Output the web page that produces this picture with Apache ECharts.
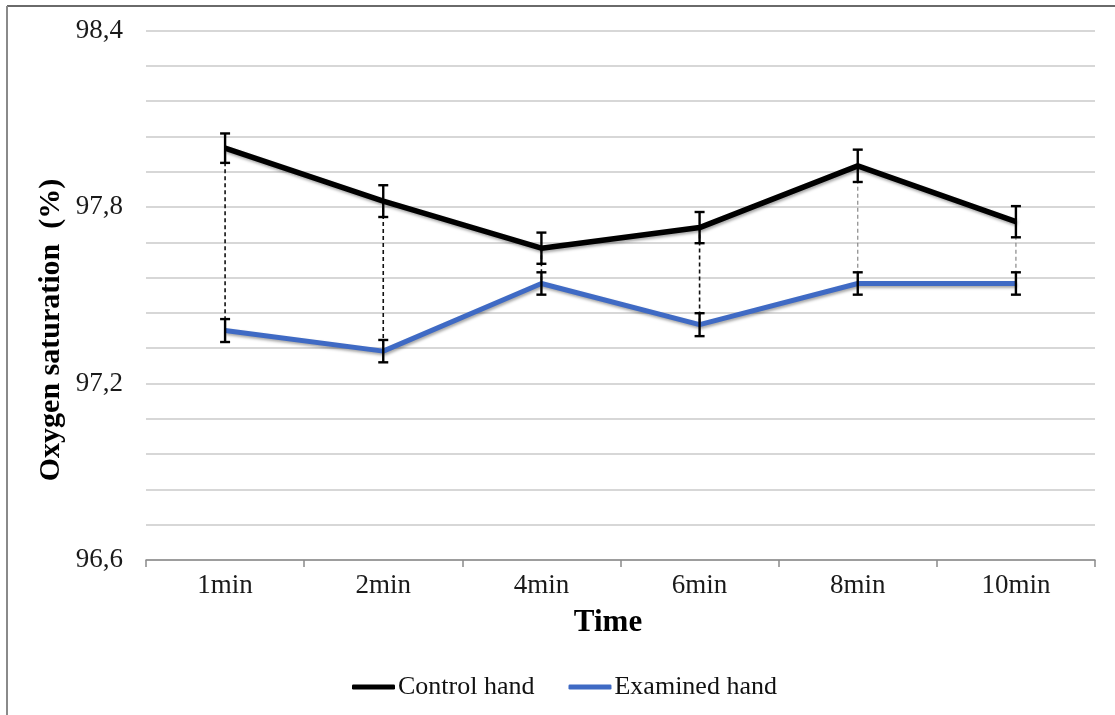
<!DOCTYPE html>
<html>
<head>
<meta charset="utf-8">
<script src="https://cdn.jsdelivr.net/npm/echarts@6/dist/echarts.min.js"></script>
<style>
html,body{margin:0;padding:0;background:#fff;}
#chart{width:1115px;height:715px;}
</style>
</head>
<body>
<div id="chart"></div>
<script>
const categories = ['1min', '2min', '4min', '6min', '8min', '10min'];
const controlHand = [98.00, 97.82, 97.66, 97.73, 97.94, 97.75];
const examinedHand = [97.38, 97.31, 97.54, 97.40, 97.54, 97.54];
const controlErr = [0.050, 0.054, 0.053, 0.053, 0.055, 0.053];
const examinedErr = [0.039, 0.038, 0.038, 0.039, 0.038, 0.038];
const yTicks = [96.6, 97.2, 97.8, 98.4];

const dropColors = ['#111', '#111', '#111', '#111', '#888', '#888'];
const serif = '"Liberation Serif", "Times New Roman", serif';

const chart = echarts.init(document.getElementById('chart'));

function errData(vals, errs) {
  return vals.map((v, i) => [i, v, errs[i]]);
}
function errRender(params, api) {
  const i = api.value(0), v = api.value(1), e = api.value(2);
  const top = api.coord([i, v + e]);
  const bot = api.coord([i, v - e]);
  const cw = 5;
  const st = { stroke: '#000', lineWidth: 2.4 };
  return {
    type: 'group',
    children: [
      { type: 'line', shape: { x1: top[0], y1: top[1], x2: bot[0], y2: bot[1] }, style: st },
      { type: 'line', shape: { x1: top[0] - cw, y1: top[1], x2: top[0] + cw, y2: top[1] }, style: st },
      { type: 'line', shape: { x1: bot[0] - cw, y1: bot[1], x2: bot[0] + cw, y2: bot[1] }, style: st }
    ]
  };
}

const dropData = controlHand.map((v, i) => [i, v, examinedHand[i]]);

const lineShadow = { shadowColor: 'rgba(0,0,0,0.35)', shadowBlur: 3, shadowOffsetX: 1, shadowOffsetY: 2 };

const option = {
  animation: false,
  backgroundColor: '#fff',
  grid: { left: 146, right: 20, top: 30.5, bottom: 155, containLabel: false },
  legend: {
    left: 352, top: 674, padding: 0,
    itemGap: 34, itemWidth: 43, itemHeight: 5,
    textStyle: { fontFamily: serif, fontSize: 26, color: '#111', padding: [0, 0, 0, -2] },
    data: [
      { name: 'Control hand', icon: 'roundRect' },
      { name: 'Examined hand', icon: 'roundRect' }
    ]
  },
  xAxis: {
    type: 'category',
    data: categories,
    boundaryGap: true,
    axisLine: { lineStyle: { color: '#8a8a8a', width: 1.5 } },
    axisTick: { show: true, length: 7, lineStyle: { color: '#8a8a8a', width: 1.5 } },
    axisLabel: { fontFamily: serif, fontSize: 27, color: '#1a1a1a', margin: 12 }
  },
  yAxis: {
    type: 'value',
    min: 96.6, max: 98.4, interval: 0.12,
    axisLine: { show: false },
    axisTick: { show: false },
    splitLine: { lineStyle: { color: '#cacaca', width: 1.5 } },
    axisLabel: {
      fontFamily: serif, fontSize: 27, color: '#1a1a1a', margin: 23,
      formatter: function (v) {
        for (const t of yTicks) {
          if (Math.abs(v - t) < 1e-6) return t.toFixed(1).replace('.', ',');
        }
        return '';
      }
    }
  },
  graphic: [
    { type: 'line', shape: { x1: 7, y1: 6, x2: 1115, y2: 6 }, style: { stroke: '#6a6a6a', lineWidth: 2 } },
    { type: 'line', shape: { x1: 7, y1: 6, x2: 7, y2: 715 }, style: { stroke: '#8a8a8a', lineWidth: 2 } },
    {
      type: 'text', x: 51, y: 330, rotation: Math.PI / 2,
      style: { text: 'Oxygen saturation  (%)', fontFamily: serif, fontSize: 30, fontWeight: 'bold', fill: '#000', align: 'center', verticalAlign: 'middle' }
    },
    {
      type: 'text', x: 608, y: 623,
      style: { text: 'Time', fontFamily: serif, fontSize: 31, fontWeight: 'bold', fill: '#000', align: 'center', verticalAlign: 'middle' }
    }
  ],
  series: [
    {
      name: 'drop', type: 'custom', z: 1, silent: true,
      data: dropData,
      encode: { x: 0, y: [1, 2] },
      renderItem: function (params, api) {
        const i = api.value(0);
        const a = api.coord([i, api.value(1)]);
        const b = api.coord([i, api.value(2)]);
        const c = dropColors[params.dataIndex];
        return { type: 'line', shape: { x1: a[0], y1: a[1], x2: b[0], y2: b[1] },
          style: { stroke: c, lineWidth: c === '#111' ? 1.6 : 1.2, lineDash: [4, 3] } };
      }
    },
    {
      name: 'Control hand', type: 'line', z: 3,
      data: controlHand, showSymbol: false, symbol: 'none',
      itemStyle: { color: '#000' },
      lineStyle: Object.assign({ color: '#000', width: 5.5 }, lineShadow)
    },
    {
      name: 'Examined hand', type: 'line', z: 3,
      data: examinedHand, showSymbol: false, symbol: 'none',
      itemStyle: { color: '#3f6ac4' },
      lineStyle: Object.assign({ color: '#3f6ac4', width: 5 }, lineShadow)
    },
    {
      name: 'errC', type: 'custom', z: 4, silent: true,
      data: errData(controlHand, controlErr),
      encode: { x: 0, y: 1 },
      renderItem: errRender
    },
    {
      name: 'errE', type: 'custom', z: 4, silent: true,
      data: errData(examinedHand, examinedErr),
      encode: { x: 0, y: 1 },
      renderItem: errRender
    }
  ]
};
chart.setOption(option);
</script>
</body>
</html>
